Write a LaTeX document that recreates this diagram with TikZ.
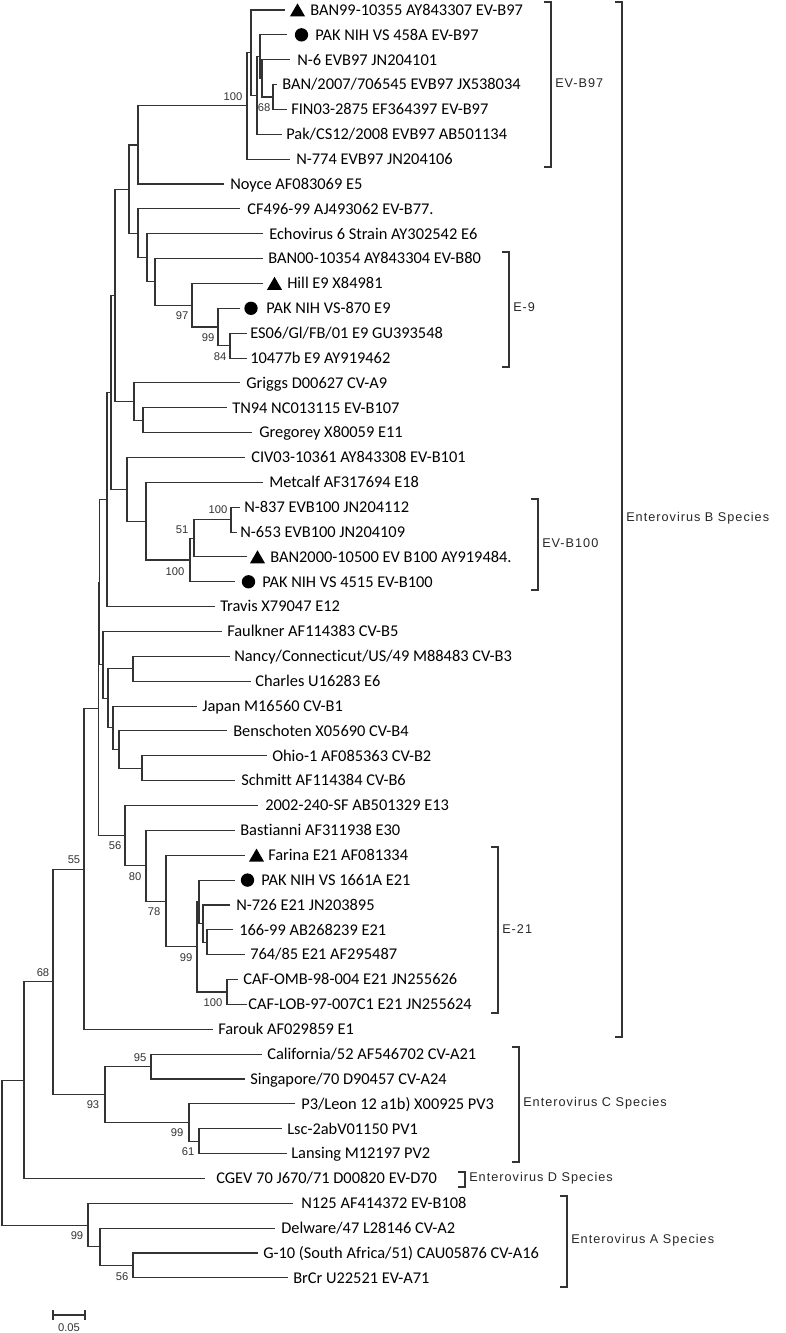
\documentclass[tikz,border=0pt]{standalone}
\usepackage{fontspec}
\setmainfont{Carlito}[Ligatures=NoCommon]
\newfontfamily\cladefont[LetterSpace=8]{Liberation Sans}
\newfontfamily\bootfont{Liberation Sans}
\usetikzlibrary{shapes.geometric}

\begin{document}
\begin{tikzpicture}[x=0.75pt,y=-0.75pt,
  branch/.style={draw=black!80,line width=0.8pt},
  bracket/.style={draw=black!80,line width=0.8pt},
  leaf/.style={anchor=base west,inner sep=0pt,font=\fontsize{12.3}{14}\selectfont},
  boot/.style={inner sep=0pt,font=\bootfont\fontsize{8.4}{9}\selectfont,text=black!80},
  clade/.style={anchor=west,inner sep=0pt,font=\cladefont\fontsize{9.5}{10}\selectfont,text=black!85},
  tri/.style={regular polygon,regular polygon sides=3,fill=black,inner sep=0pt,minimum size=13pt},
  dot/.style={circle,fill=black,inner sep=0pt,minimum size=10pt}]
\useasboundingbox (0,0) rectangle (785,1333);

% leaves: index / tip x / text x / label
\foreach \i/\tip/\tx/\lab in {
  1/285/310/{BAN99-10355 AY843307 EV-B97},
  2/287/315/{PAK NIH VS 458A EV-B97},
  3/290/297/{N-6 EVB97 JN204101},
  4/277/282/{BAN/2007/706545 EVB97 JX538034},
  5/287/291/{FIN03-2875 EF364397 EV-B97},
  6/282/286/{Pak/CS12/2008 EVB97 AB501134},
  7/290/296/{N-774 EVB97 JN204106},
  8/224/230/{Noyce AF083069 E5},
  9/240/247/{CF496-99 AJ493062 EV-B77.},
  10/263/269/{Echovirus 6 Strain AY302542 E6},
  11/263/268/{BAN00-10354 AY843304 EV-B80},
  12/263/287/{Hill E9 X84981},
  13/240/266/{PAK NIH VS-870 E9},
  14/247/250/{ES06/Gl/FB/01 E9 GU393548},
  15/247/250/{10477b E9 AY919462},
  16/240/246/{Griggs D00627 CV-A9},
  17/227/232/{TN94 NC013115 EV-B107},
  18/252/259/{Gregorey X80059 E11},
  19/245/251/{CIV03-10361 AY843308 EV-B101},
  20/263/269/{Metcalf AF317694 E18},
  21/240/244/{N-837 EVB100 JN204112},
  22/237/240/{N-653 EVB100 JN204109},
  23/247/270/{BAN2000-10500 EV B100 AY919484.},
  24/235/262/{PAK NIH VS 4515 EV-B100},
  25/215/220/{Travis X79047 E12},
  26/222/227/{Faulkner AF114383 CV-B5},
  27/230/234/{Nancy/Connecticut/US/49 M88483 CV-B3},
  28/251/255/{Charles U16283 E6},
  29/197/202/{Japan M16560 CV-B1},
  30/227/233/{Benschoten X05690 CV-B4},
  31/267/272/{Ohio-1 AF085363 CV-B2},
  32/235/241/{Schmitt AF114384 CV-B6},
  33/258/265/{2002-240-SF AB501329 E13},
  34/235/240/{Bastianni AF311938 E30},
  35/245/268/{Farina E21 AF081334},
  36/235/261/{PAK NIH VS 1661A E21},
  37/230/236/{N-726 E21 JN203895},
  38/233/239/{166-99 AB268239 E21},
  39/245/250/{764/85 E21 AF295487},
  40/238/243/{CAF-OMB-98-004 E21 JN255626},
  41/247/248/{CAF-LOB-97-007C1 E21 JN255624},
  42/213/218/{Farouk AF029859 E1},
  43/262/267/{California/52 AF546702 CV-A21},
  44/245/250/{Singapore/70 D90457 CV-A24},
  45/295/301/{P3/Leon 12 a1b) X00925 PV3},
  46/282/287/{Lsc-2abV01150 PV1},
  47/287/291/{Lansing M12197 PV2},
  48/205/216/{CGEV 70 J670/71 D00820 EV-D70},
  49/293/301/{N125 AF414372 EV-B108},
  50/275/281/{Delware/47 L28146 CV-A2},
  51/258/263/{G-10 (South Africa/51) CAU05876 CV-A16},
  52/288/293/{BrCr U22521 EV-A71}}{
  \coordinate (l\i) at (\tip,{10+24.86*(\i-1)});
  \node[leaf] (t\i) at (\tx,{10+24.86*(\i-1)+5.3}) {\lab};
}

% markers
\foreach \i/\mx in {1/297.5,12/274.5,23/257.5,35/256.5}
  \node[tri] (m\i) at (\mx,{10+24.86*(\i-1)+2}) {};
\foreach \i/\mx in {2/301.5,13/251,24/248.5,36/247.5}
  \node[dot] (m\i) at (\mx,{10+24.86*(\i-1)}) {};

% internal nodes
\foreach \n/\x/\y in {
  E/273/97.01, D2/262/78.37, D/260/56.61, C/257/95.46, B/251/52.73, A/247/105.95,
  F/138/144.98, M/230/345.61, L/218/326.97, K/192/305.21, J/155/281.91,
  I/147/257.82, H/138/233.35, G/129/189.17, P/143/420.19, O/134/401.55,
  N/115/295.36, V/231/519.63, U/194/538.28, T/190/560.03, S/146/521.19,
  R/127/489.34, Q/111/392.35, X/107/499.5, Y/133/668.79, Z4/142/768.23,
  Z3/119/749.59, Z2/113/727.84, Z1/108/698.31, Z0/103/664.91, W2/99.5/582.2,
  Eg/207/942.25, Eh/203/923.6, Ee/199/901.85, Ef/227/991.97, Ed/197/946.91,
  Ec/166/901.08, Eb/146/865.73, Ea/125/835.63, W/98.5/708.91, BB/84/869.09,
  CC1/151/1066.55, DD2/199/1141.13, DD1/189/1122.49, DD/105/1094.52,
  CC/53/981.8, EE/24/1080.11, HH/133/1265.43, GG/100/1246.79, FF/88/1225.04,
  root/2/1152.6}
  \coordinate (\n) at (\x,\y);

% branches
\foreach \p/\c in {A/B, A/l7, B/l1, B/C, C/D, C/l6, D/l2, D/D2, D2/l3, D2/E, E/l4, E/l5,
  F/A, F/l8, G/F, G/H, H/l9, H/I, I/l10, I/J, J/l11, J/K, K/l12, K/L, L/l13, L/M,
  M/l14, M/l15, N/G, N/O, O/l16, O/P, P/l17, P/l18,
  Q/N, Q/R, R/l19, R/S, S/l20, S/T, T/U, T/l24, U/V, U/l23, V/l21, V/l22, X/Q, X/l25,
  W2/X, W2/Z0, Z0/l26, Z0/Z1, Z1/Y, Z1/Z2, Y/l27, Y/l28, Z2/l29, Z2/Z3, Z3/l30,
  Z3/Z4, Z4/l31, Z4/l32,
  W/W2, W/Ea, Ea/l33, Ea/Eb, Eb/l34, Eb/Ec, Ec/l35, Ec/Ed, Ed/Ee, Ed/Ef, Ee/l36,
  Ee/Eh, Eh/l37, Eh/Eg, Eg/l38, Eg/l39, Ef/l40, Ef/l41,
  BB/W, BB/l42, CC/BB, CC/DD, DD/CC1, DD/DD1, CC1/l43, CC1/l44, DD1/l45, DD1/DD2,
  DD2/l46, DD2/l47, EE/CC, EE/l48, root/EE, root/FF, FF/l49, FF/GG, GG/l50, GG/HH,
  HH/l51, HH/l52}
  \draw[branch] (\p) |- (\c);

% bootstrap values
\foreach \bx/\by/\bv in {233/97/100, 264/108/68, 182/316/97, 208/338/99, 220/357/84,
  218/510/100, 182/530/51, 175/572/100, 115/846/56, 135/877/80, 154/912/78,
  186/958/99, 213/1003/100, 74/860/55, 43/973/68, 140/1058/95, 93/1105/93,
  177/1133/99, 188/1152/61, 77/1236/99, 122/1277/56}
  \node[boot] at (\bx,\by) {\bv};

% clade brackets: top y / bottom y / bar x / label y / label
\foreach \ty/\by/\bx/\ly/\lab in {2/167/551/83/{EV-B97}, 252/367/509/307/{E-9},
  499/590/538/543/{EV-B100}, 847/1013/498/929/{E-21}, 2/1037/622/518/{Enterovirus B Species},
  1047/1162/519/1103/{Enterovirus C Species}, 1172/1187/465/1178/{Enterovirus D Species},
  1196/1287/567/1240/{Enterovirus A Species}}{
  \draw[bracket] (\bx-7,\ty) -- (\bx,\ty) -- (\bx,\by) -- (\bx-7,\by);
  \node[clade] at (\bx+4,\ly) {\lab};
}

% scale bar
\draw[branch] (53,1310) -- (53,1320) (53,1315) -- (85,1315) (85,1310) -- (85,1320);
\node[boot] (scale) at (69,1328) {0.05};
\end{tikzpicture}
\end{document}
